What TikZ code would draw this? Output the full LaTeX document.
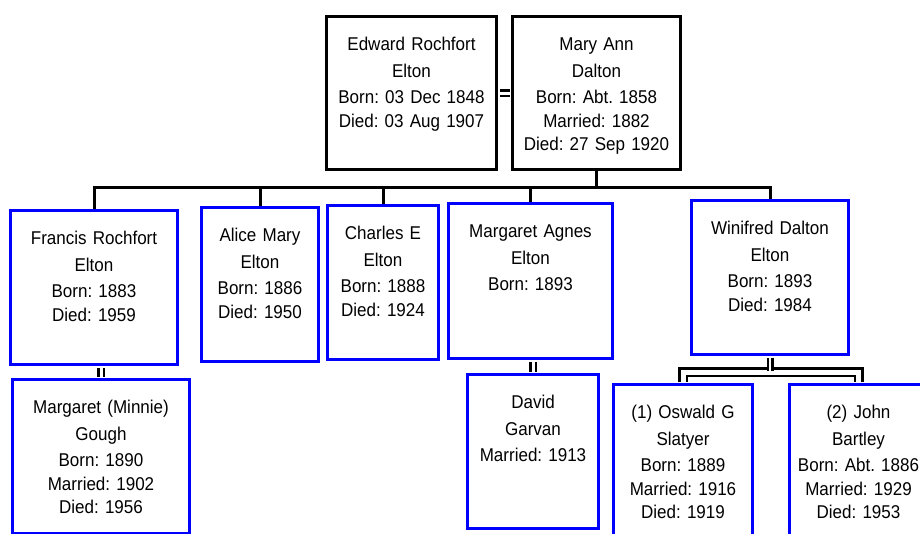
\documentclass[tikz,border=0pt]{standalone}
\usepackage{fontspec}
\setmainfont{Liberation Sans}[FakeStretch=0.92]
\usepackage{tikz}
\usepackage{xcolor}
\definecolor{ftblue}{RGB}{0,0,255}
\tikzstyle{parent} = [rectangle, draw=black, line width=3pt, inner sep=0pt, align=center, anchor=north west, text height=34pt, font=\fontsize{18.5}{23.5}\selectfont\frenchspacing]
\tikzstyle{child} = [parent, draw=ftblue]
\tikzstyle{descent} = [line width=3pt, black]
\tikzstyle{marriage} = [double, double distance=3pt, line width=2.5pt, black, shorten <=1.5pt, shorten >=1.5pt]

\begin{document}
\begin{tikzpicture}[x=1pt, y=-1pt]
\useasboundingbox (0,0) rectangle (920,533);
\clip (0,0) rectangle (920,533);

% Parents
\node (edward) [parent, text width=170pt, text depth=119pt] at (325,15) {Edward Rochfort\\[3pt]Elton\\[3pt]Born: 03 Dec 1848\\Died: 03 Aug 1907};
\node (mary) [parent, text width=168pt, text depth=119pt] at (511,15) {Mary Ann\\[3pt]Dalton\\[3pt]Born: Abt. 1858\\Married: 1882\\Died: 27 Sep 1920};

% Children
\node (francis) [child, text width=167pt, text depth=120pt] at (9,209) {Francis Rochfort\\[3pt]Elton\\[3pt]Born: 1883\\Died: 1959};
\node (alice) [child, text width=117pt, text depth=120pt] at (200,206) {Alice Mary\\[3pt]Elton\\[3pt]Born: 1886\\Died: 1950};
\node (charles) [child, text width=111pt, text depth=120pt] at (326,204) {Charles E\\[3pt]Elton\\[3pt]Born: 1888\\Died: 1924};
\node (magnes) [child, text width=164pt, text depth=121pt] at (447,202) {Margaret Agnes\\[3pt]Elton\\[3pt]Born: 1893};
\node (winifred) [child, text width=157pt, text depth=120pt] at (690,199) {Winifred Dalton\\[3pt]Elton\\[3pt]Born: 1893\\Died: 1984};

% Spouses
\node (minnie) [child, text width=177pt, text depth=120pt] at (11,378) {Margaret (Minnie)\\[3pt]Gough\\[3pt]Born: 1890\\Married: 1902\\Died: 1956};
\node (david) [child, text width=131pt, text depth=120pt] at (466,373) {David\\[3pt]Garvan\\[3pt]Married: 1913};
\node (oswald) [child, text width=139pt, text depth=126pt] at (612,383) {(1) Oswald G\\[3pt]Slatyer\\[3pt]Born: 1889\\Married: 1916\\Died: 1919};
\node (john) [child, text width=138pt, text depth=126pt] at (788,383) {(2) John\\[3pt]Bartley\\[3pt]Born: Abt. 1886\\Married: 1929\\Died: 1953};

% Connections
\draw[marriage] (edward) -- (mary);
\coordinate (fam) at ([yshift=-16pt]mary.south);
\draw[descent] (mary.south) -- (fam);
\draw[descent] (fam) -| (francis.north);
\draw[descent] (fam) -| (alice.north);
\draw[descent] (fam) -| (charles.north);
\draw[descent] (fam) -| (magnes.north);
\draw[descent] (fam) -| (winifred.north);

\draw[marriage] (minnie.north) -- (minnie.north |- francis.south);
\draw[marriage] (david.north) -- (david.north |- magnes.south);
\coordinate (wjoin) at ([yshift=-16pt]winifred.south);
\draw[marriage, double distance=5pt] (oswald.north) |- (wjoin) -| (john.north);
\draw[marriage, double distance=2pt] (winifred.south) -- (wjoin);
\end{tikzpicture}
\end{document}
